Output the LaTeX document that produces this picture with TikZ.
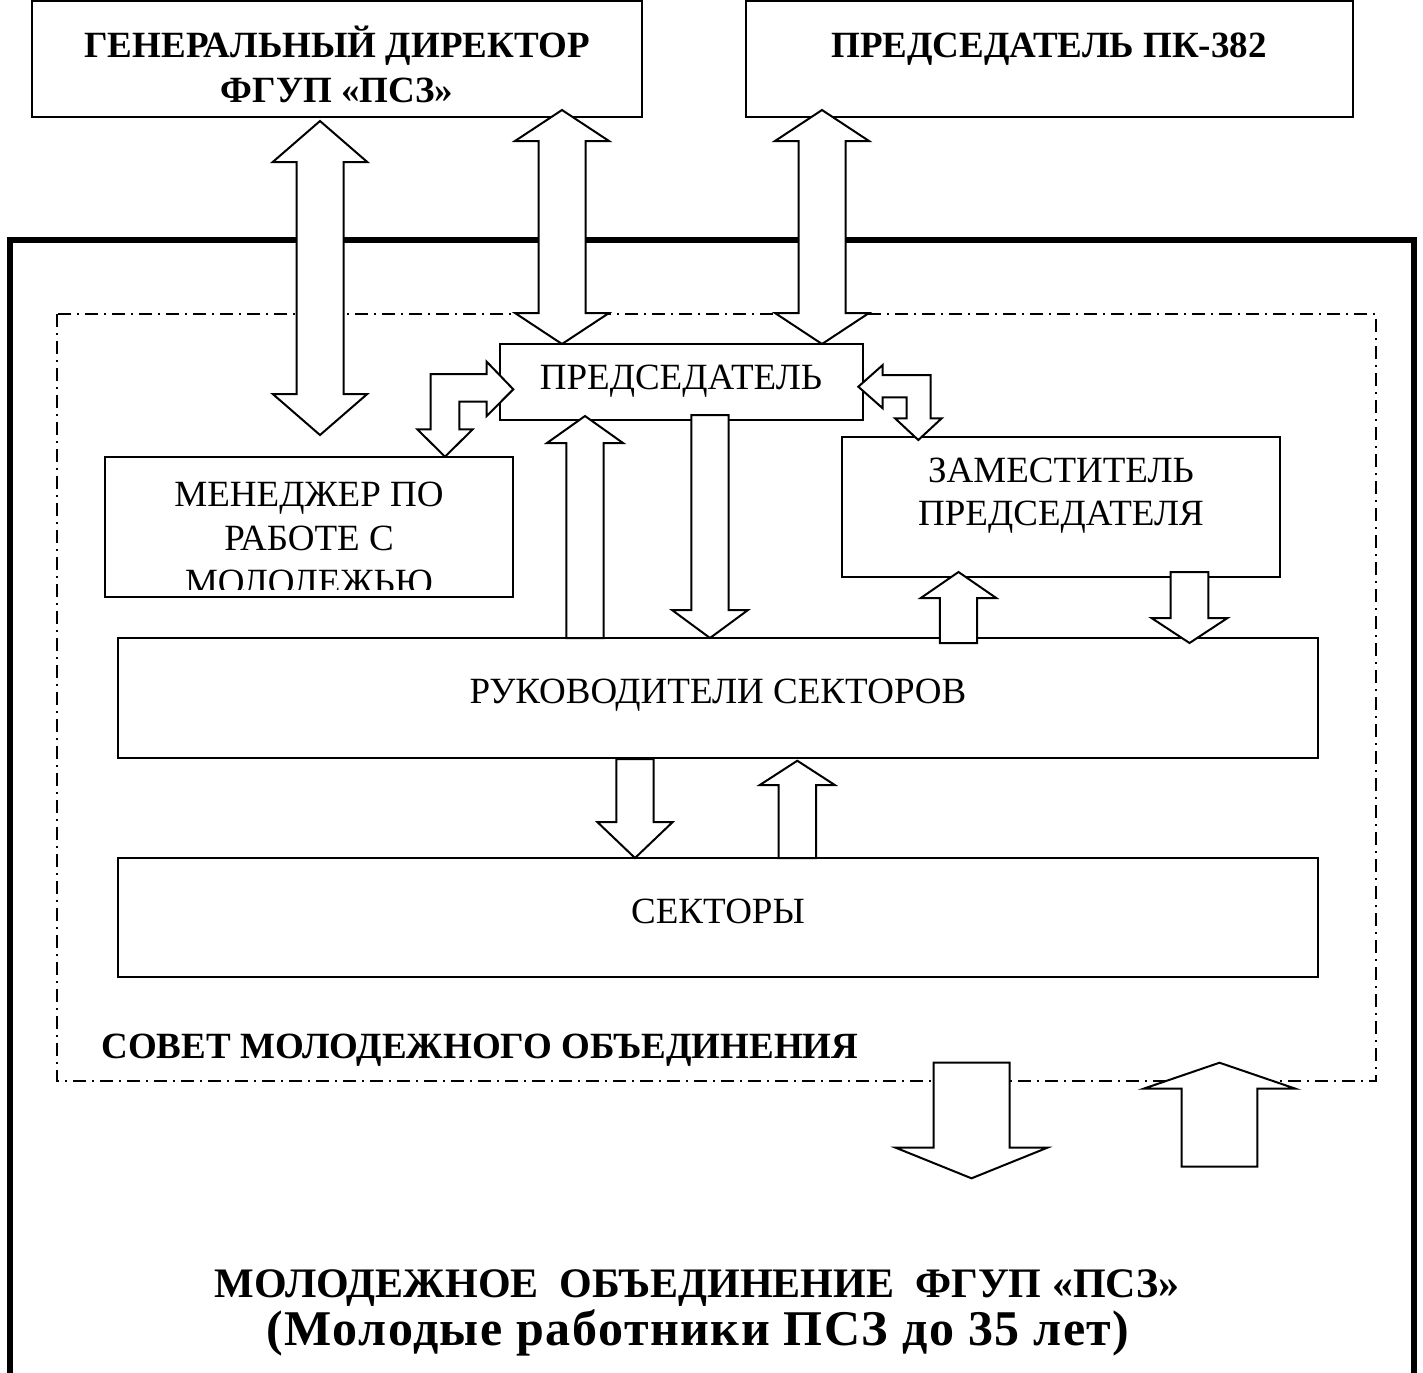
\documentclass[tikz,border=0pt]{standalone}
\usepackage{fontspec}
\setmainfont{Liberation Serif}
\newfontfamily\spacedfont[LetterSpace=3]{Liberation Serif}
\newcommand\dblarrow[7]{%
  \draw[blockarrow] (#1,#2) -- (#1+#7,#3) -- (#1+#6,#3) -- (#1+#6,#4) -- (#1+#7,#4) -- (#1,#5)
    -- (#1-#7,#4) -- (#1-#6,#4) -- (#1-#6,#3) -- (#1-#7,#3) -- cycle;}
\newcommand\sarrow[6]{%
  \draw[blockarrow] (#1-#5,#2) -- (#1+#5,#2) -- (#1+#5,#3) -- (#1+#6,#3) -- (#1,#4)
    -- (#1-#6,#3) -- (#1-#5,#3) -- cycle;}
\tikzset{
  boxline/.style={draw, line width=1pt},
  frameline/.style={line width=3pt},
  dashdotline/.style={line width=0.75pt, dash pattern=on 6.5pt off 3pt on 1pt off 3pt},
  blockarrow/.style={draw, fill=white, line width=1pt, line join=miter},
  txt/.style={inner sep=0pt, anchor=base, font=\fontsize{18.5}{22.5}\selectfont},
  btxt/.style={txt, font=\fontsize{18.5}{22.5}\selectfont\bfseries},
  bigtxt/.style={inner sep=0pt, anchor=base, font=\fontsize{21}{25}\selectfont\bfseries},
  subtxt/.style={inner sep=0pt, anchor=base, font=\spacedfont\fontsize{25}{29}\selectfont\bfseries}
}
\begin{document}
\begin{tikzpicture}[x=0.5pt, y=-0.5pt]
\useasboundingbox (0,0) rectangle (1423,1372);
% outer frame (open at the bottom)
\draw[frameline] (10,1390) -- (10,240) -- (1414,240) -- (1414,1390);
% council area
\draw[dashdotline] (57,314) rectangle (1376,1081);
% boxes
\draw[boxline] (32,1) rectangle (642,117);
\draw[boxline] (746,1) rectangle (1353,117);
\draw[boxline] (500,344) rectangle (863,420);
\draw[boxline] (105,457) rectangle (513,597);
\draw[boxline] (842,437) rectangle (1280,577);
\draw[boxline] (118,638) rectangle (1318,758);
\draw[boxline] (118,858) rectangle (1318,977);
% texts
\node[btxt] (gd1) at (337,57) {ГЕНЕРАЛЬНЫЙ ДИРЕКТОР};
\node[btxt] (gd2) at (337,102) {ФГУП «ПСЗ»};
\node[btxt] (pk) at (1049,57) {ПРЕДСЕДАТЕЛЬ ПК-382};
\node[txt] (pred) at (681,389) {ПРЕДСЕДАТЕЛЬ};
\begin{scope}
\clip (105,457) rectangle (513,589);
\node[txt] (man1) at (309,506) {МЕНЕДЖЕР ПО};
\node[txt] (man2) at (309,550) {РАБОТЕ С};
\node[txt] (man3) at (309,594) {МОЛОЛЕЖЬЮ};
\end{scope}
\node[txt] (zam1) at (1061,482) {ЗАМЕСТИТЕЛЬ};
\node[txt] (zam2) at (1061,525) {ПРЕДСЕДАТЕЛЯ};
\node[txt] (ruk) at (718,703) {РУКОВОДИТЕЛИ СЕКТОРОВ};
\node[txt] (sec) at (718,923) {СЕКТОРЫ};
\node[btxt, anchor=base west] (sovet) at (101,1058) {СОВЕТ МОЛОДЕЖНОГО ОБЪЕДИНЕНИЯ};
\node[bigtxt] (mo1) at (697,1297) {МОЛОДЕЖНОЕ\ \ ОБЪЕДИНЕНИЕ\ \ ФГУП «ПСЗ»};
\node[subtxt] (mo2) at (698,1345) {(Молодые работники ПСЗ до 35 лет)};
% block arrows
\dblarrow{320}{121}{162}{394}{435}{23.5}{47.25}
\dblarrow{562}{110}{141}{313}{344}{23.5}{47}
\dblarrow{822}{110}{141}{313}{344}{23.5}{47}
\sarrow{585}{638}{443}{416}{18.7}{38}
\sarrow{710}{415}{610}{638}{18.7}{38}
\sarrow{958.5}{643}{598}{572}{18.7}{37.7}
\sarrow{1189.5}{572}{618}{643}{18.8}{38}
\sarrow{635}{759}{822}{858}{18.7}{37.7}
\sarrow{797.3}{858}{785}{760.7}{18.8}{37.5}
\sarrow{971.5}{1062.7}{1147.7}{1178.3}{38}{75.8}
\sarrow{1219.5}{1166.7}{1088.7}{1062.7}{37.8}{76}
% bent arrows
\draw[blockarrow] (513.3,389.3) -- (486.7,361.7) -- (486.7,374) -- (430.7,374) -- (430.7,429.3)
  -- (417.3,429.3) -- (445,456.7) -- (472.7,429.3) -- (459.3,429.3) -- (459.3,401.7)
  -- (486.7,401.7) -- (486.7,416) -- cycle;
\draw[blockarrow] (858.3,386.7) -- (882.7,365) -- (882.7,375) -- (930.7,375) -- (930.7,418.3)
  -- (941.7,418.3) -- (918.3,440) -- (895,418.3) -- (906.7,418.3) -- (906.7,397.3)
  -- (882.7,397.3) -- (882.7,408.3) -- cycle;
\end{tikzpicture}
\end{document}
